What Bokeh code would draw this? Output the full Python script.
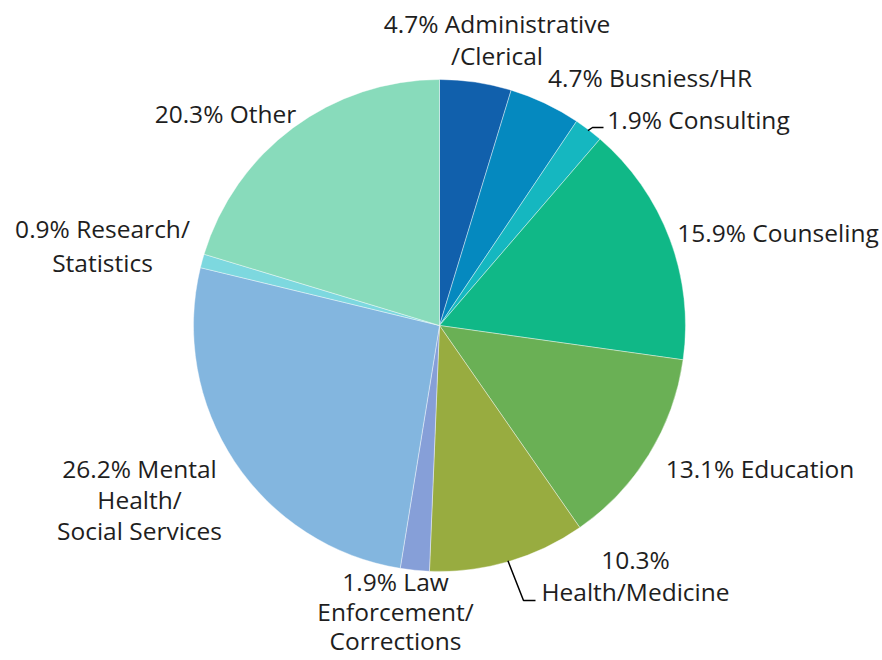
import numpy as np
from bokeh.plotting import figure
from bokeh.models import Range1d, ColumnDataSource
from bokeh.core.properties import value
from bokeh.embed import file_html
from bokeh.resources import INLINE

# ---- data ----
categories = ["Administrative/Clerical", "Busniess/HR", "Consulting", "Counseling",
              "Education", "Health/Medicine", "Law Enforcement/Corrections",
              "Mental Health/Social Services", "Research/Statistics", "Other"]
percents = [4.7, 4.7, 1.9, 15.9, 13.1, 10.3, 1.9, 26.2, 0.9, 20.3]
colors = ["#1160AC", "#0589BF", "#15B7C0", "#10B887", "#6AB055",
          "#98AC40", "#869FD8", "#83B6DF", "#7DD8DF", "#88DBBB"]
# label text pieces (percent is prepended to the first piece)
label_parts = [["Administrative", "/Clerical"], ["Busniess/HR"], ["Consulting"],
               ["Counseling"], ["Education"], ["", "Health/Medicine"],
               ["Law", "Enforcement/", "Corrections"],
               ["Mental", "Health/", "Social Services"],
               ["Research/", "Statistics"], ["Other"]]

# ---- layout (screen pixels) ----
W, H = 882, 660
OFF = 0
TXT_DY = -9  # correction for rendered text baseline
def fx(sx):
    return sx - OFF
def fy(sy):
    return (H + OFF) - sy

CX, CY, R = 439, 325, 246
# (center x, first baseline y, line spacing)
label_pos = [(496.5, 32, 32), (649.5, 86, 0), (698, 128, 0), (777.5, 241, 0),
             (759.5, 477, 0), (635, 568, 32), (395, 590, 29.5), (139, 477, 31),
             (102, 237, 34), (225, 122, 0)]
# leader lines: index -> (elbow, end) in screen px
leaders = {2: [(592, 127), (603, 127)], 5: [(523, 600), (535, 600)]}

p = figure(width=W, height=H, output_backend="svg", toolbar_location=None,
           x_range=Range1d(0, W), y_range=Range1d(0, H),
           x_axis_location=None, y_axis_location=None, min_border=0)
p.grid.visible = False
p.outline_line_color = None
p.background_fill_color = "white"
p.border_fill_color = "white"

total = sum(percents)
fr = np.array(percents) / total
cum_end = np.cumsum(fr)
cum_start = cum_end - fr
start_ang = np.pi / 2 - cum_start * 2 * np.pi
end_ang = np.pi / 2 - cum_end * 2 * np.pi

src = ColumnDataSource(dict(x=[fx(CX)] * len(percents), y=[fy(CY)] * len(percents),
                            start=list(start_ang), end=list(end_ang), color=colors,
                            cat=categories))
p.wedge(x="x", y="y", radius=R, start_angle="start", end_angle="end",
        direction="clock", fill_color="color", line_color="white", line_width=0.5,
        line_alpha=0.8, source=src)

# leader lines
for i, pts in leaders.items():
    mid = np.pi / 2 - (cum_start[i] + fr[i] / 2) * 2 * np.pi
    x0 = fx(CX) + (R - 1) * np.cos(mid)
    y0 = fy(CY) + (R - 1) * np.sin(mid)
    xs = [x0] + [fx(a) for a, b in pts]
    ys = [y0] + [fy(b) for a, b in pts]
    p.line(xs, ys, line_color="black", line_width=1.5)

# labels
tx, ty, tt = [], [], []
for i, parts in enumerate(label_parts):
    cxl, by, sp = label_pos[i]
    for k, part in enumerate(parts):
        if k == 0:
            s = f"{percents[i]}%" + (" " + part if part else "")
        else:
            s = part
        tx.append(fx(cxl))
        ty.append(fy(by + k * sp + TXT_DY))
        tt.append(s)
p.text(x=tx, y=ty, text=tt, text_align="center", text_baseline="alphabetic",
       text_font=value("Open Sans"), text_font_size="24.5px", text_color="#1e1e1e")

open("out.html", "w").write(file_html(p, INLINE))
